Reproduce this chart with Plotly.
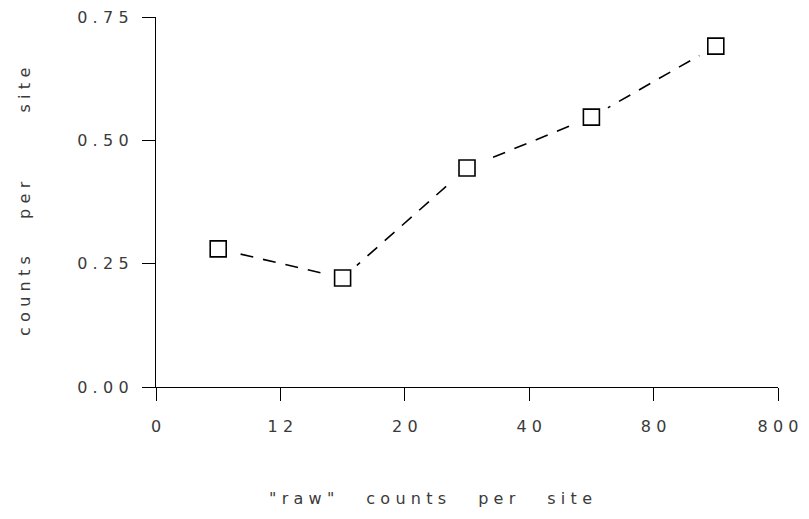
import plotly.graph_objects as go

# ---- data ----
x_tick_vals = [0, 1, 2, 3, 4, 5]
x_tick_labels = ["0", "12", "20", "40", "80", "800"]
bin_mid = [0.5, 1.5, 2.5, 3.5, 4.5]
counts_per_site = [0.28, 0.221, 0.444, 0.547, 0.691]
y_tick_vals = [0.0, 0.25, 0.5, 0.75]
y_tick_labels = ["0.00", "0.25", "0.50", "0.75"]

SP = "\u2004"   # letter spacing
EM = "\u2003"   # word gap


def spaced(s):
    return SP.join(list(s))


FONT = dict(family="DejaVu Sans", size=16, color="#3a3a3a")

L, R, T, B = 156, 31, 17, 132
W, H = 809, 519
PW, PH = W - L - R, H - T - B

fig = go.Figure()
# dashed connecting line
fig.add_trace(go.Scatter(x=bin_mid, y=counts_per_site, mode="lines",
                         line=dict(color="black", width=1.6, dash="13px,10px"),
                         hoverinfo="skip", showlegend=False))
# white mask around markers (gap between line and marker)
fig.add_trace(go.Scatter(x=bin_mid, y=counts_per_site, mode="markers",
                         marker=dict(symbol="circle", size=38, color="white",
                                     line=dict(width=0)),
                         hoverinfo="skip", showlegend=False))
# open squares
fig.add_trace(go.Scatter(x=bin_mid, y=counts_per_site, mode="markers",
                         marker=dict(symbol="square-open", size=16, color="black",
                                     line=dict(width=1.6, color="black")),
                         showlegend=False))

fig.update_layout(
    width=W, height=H,
    margin=dict(l=L, r=R, t=T, b=B, autoexpand=False),
    paper_bgcolor="white", plot_bgcolor="white",
    font=FONT,
    xaxis=dict(range=[0, 5], tickmode="array", tickvals=x_tick_vals,
               ticktext=[spaced(t) for t in x_tick_labels],
               showgrid=False, zeroline=False, showline=True,
               linecolor="black", linewidth=1.4,
               ticks="outside", ticklen=13, tickwidth=1.3, tickcolor="black",
               ticklabelstandoff=12, tickfont=FONT),
    yaxis=dict(range=[0, 0.75], tickmode="array", tickvals=y_tick_vals,
               ticktext=[spaced(t) for t in y_tick_labels],
               showgrid=False, zeroline=False, showline=True,
               linecolor="black", linewidth=1.4,
               ticks="outside", ticklen=13, tickwidth=1.3, tickcolor="black",
               ticklabelstandoff=10, tickfont=FONT),
    annotations=[
        dict(text=spaced('"raw"') + EM * 2 + spaced("counts") + EM * 2 + spaced("per")
             + EM * 2 + spaced("site"),
             xref="paper", yref="paper", x=(430 - L) / PW, y=(H - B - 498) / PH,
             xanchor="center", yanchor="middle", showarrow=False, font=FONT),
        dict(text=spaced("counts") + EM * 2 + SP + spaced("per") + EM * 4 + SP + spaced("site"),
             xref="paper", yref="paper", x=(24 - L) / PW, y=(H - B - 202) / PH,
             xanchor="center", yanchor="middle", textangle=-90, showarrow=False, font=FONT),
    ],
)

fig.write_html("out.html", config={"displayModeBar": False},
               post_script="document.body.style.margin='0';")
